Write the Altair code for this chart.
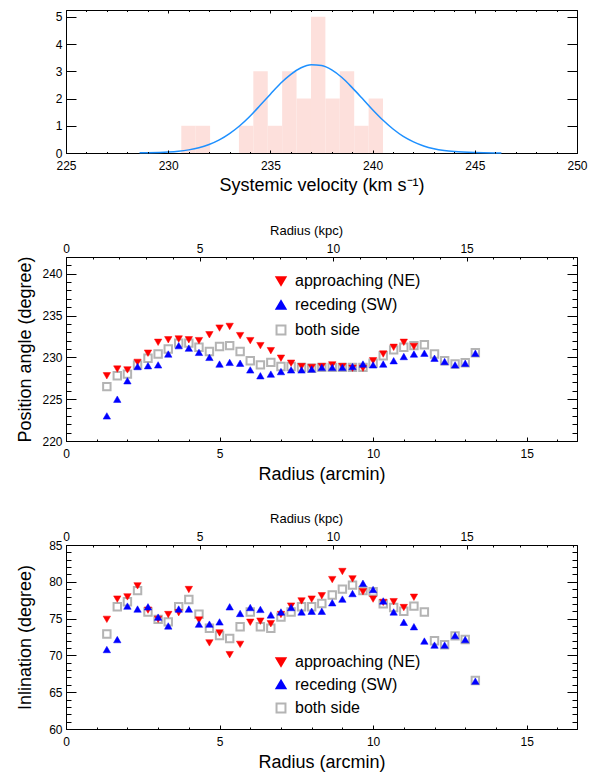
import altair as alt
import pandas as pd

FONT = "Liberation Sans"
W = 511

# ---------------- top panel: histogram of systemic velocities + Gaussian fit
bin_edges = [230.64, 231.345, 232.05, 232.755, 233.46, 234.165, 234.87, 235.575,
             236.28, 236.985, 237.69, 238.395, 239.10, 239.805, 240.51]
bin_counts = [1, 1, 0, 0, 1, 3, 1, 3, 2, 5, 2, 3, 1, 2]

fit_velocity = [228.6, 229.0, 230.0, 230.5, 231.0, 231.5, 232.0, 232.5, 233.0, 233.5,
                234.0, 234.5, 235.0, 235.5, 236.0, 236.5, 237.0, 237.5, 238.0, 238.5,
                239.0, 239.5, 240.0, 240.5, 241.0, 241.5, 242.0, 242.5, 243.0, 243.5,
                244.0, 245.0, 246.0, 246.3]
fit_count = [0.005, 0.009, 0.036, 0.066, 0.115, 0.19, 0.31, 0.48, 0.71, 1.00,
             1.35, 1.75, 2.16, 2.56, 2.89, 3.13, 3.24, 3.21, 3.05, 2.77,
             2.40, 2.00, 1.59, 1.21, 0.88, 0.61, 0.41, 0.26, 0.159, 0.093,
             0.052, 0.014, 0.003, 0.002]

# ---------------- rotation-curve fit parameters vs radius
radius_arcmin = [1.33, 1.67, 2.00, 2.33, 2.67, 3.00, 3.33, 3.67, 4.00, 4.33,
                 4.67, 5.00, 5.33, 5.67, 6.00, 6.33, 6.67, 7.00, 7.33, 7.67,
                 8.00, 8.33, 8.67, 9.00, 9.33, 9.67, 10.00, 10.33, 10.67, 11.00,
                 11.33, 11.67, 12.00, 12.33, 12.67, 13.00, 13.33]

pa_approaching = [227.8, 228.6, 228.5, 229.4, 230.5, 231.8, 232.1, 232.2, 232.1, 232.0,
                  232.7, 233.5, 233.7, 232.6, 232.0, 231.4, 230.8, 229.9, 229.3, 228.9,
                  228.8, 228.9, 229.1, 228.9, 228.7, 228.7, 229.6, 230.4, 231.2, 231.8,
                  231.3]
pa_receding = [223.0, 225.0, 227.2, 228.9, 229.0, 229.1, 230.4, 231.4, 231.1, 230.6,
               230.0, 229.2, 229.4, 229.3, 228.5, 227.8, 228.0, 228.3, 228.5, 228.5,
               228.6, 228.8, 228.8, 228.8, 228.9, 229.2, 229.1, 229.2, 229.6, 230.1,
               230.4, 230.5, 229.9, 229.5, 229.1, 229.3, 230.5]
pa_both = [226.5, 227.8, 228.0, 229.1, 229.9, 230.4, 231.0, 231.7, 231.7, 231.2,
           230.7, 231.3, 231.4, 230.7, 229.6, 229.1, 229.4, 228.9, 228.9, 228.8,
           228.7, 228.8, 228.8, 228.8, 228.8, 228.8, 229.3, 230.2, 230.9, 231.2,
           231.4, 231.5, 230.4, 229.6, 229.2, 229.35, 230.55]

inc_approaching = [74.9, 77.65, 77.95, 79.45, 76.15, 74.9, 75.55, 75.8, 78.95, 74.8,
                   71.7, 73.05, 70.1, 71.5, 74.5, 74.65, 74.3, 75.55, 76.7, 77.4,
                   77.65, 78.1, 80.3, 81.4, 80.4, 78.65, 77.65, 77.2, 77.3, 76.5,
                   77.9]
inc_receding = [70.8, 72.15, 76.7, 76.3, 76.6, 75.2, 74.0, 76.3, 76.3, 74.25,
                74.25, 74.55, 76.6, 75.7, 76.5, 76.25, 75.5, 75.9, 76.5, 75.9,
                76.0, 76.0, 77.15, 77.65, 78.4, 79.8, 78.95, 77.4, 75.9, 74.5,
                73.9, 71.95, 71.4, 71.4, 72.7, 72.15, 66.5]
inc_both = [72.9, 76.6, 77.3, 78.8, 75.9, 74.9, 74.55, 76.6, 77.6, 75.6,
            73.7, 72.7, 72.3, 73.9, 75.9, 73.9, 73.7, 75.2, 75.9, 76.6,
            76.6, 77.05, 78.2, 79.0, 79.55, 78.8, 78.65, 77.0, 76.5, 76.0,
            76.7, 75.9, 72.0, 71.45, 72.65, 72.15, 66.6]

SERIES = ["approaching (NE)", "receding (SW)", "both side"]
ARCMIN_TO_KPC = 1.15
R_MAX = 16.64


def axis(orient, values, size, labels=False, title=None, **kw):
    d = dict(orient=orient, values=values, tickSize=size, offset=-size,
             domain=False, grid=False, labels=labels, ticks=True,
             tickColor="black", tickWidth=1, labelFlush=False, labelOverlap=False,
             labelFont=FONT, labelFontSize=12, labelColor="black",
             titleFont=FONT, titleFontSize=18, titleFontWeight="normal",
             titleColor="black", title=title, zindex=1)
    d.update(kw)
    return alt.Axis(**d)


# ---------------- top panel
hist = pd.DataFrame({"lo": bin_edges[:-1], "hi": bin_edges[1:], "count": bin_counts})
fit = pd.DataFrame({"v": fit_velocity, "c": fit_count})

xs_v = alt.Scale(domain=[225, 250], nice=False, zero=False)
ys_c = alt.Scale(domain=[0, 5.25], nice=False, zero=False)
v_major = [225, 230, 235, 240, 245, 250]
v_minor = list(range(225, 251))
c_major = [0, 1, 2, 3, 4, 5]

bars = alt.Chart(hist).mark_rect(color="#fde0dc").encode(
    x=alt.X("lo:Q", scale=xs_v,
            axis=axis("bottom", v_major, 3, labels=True,
                      title="Systemic velocity (km s\u207b\u00b9)",
                      labelPadding=7.5, titlePadding=5)),
    x2="hi:Q",
    y=alt.Y("count:Q", scale=ys_c, axis=axis("left", c_major, 10, labels=True, labelPadding=4)),
    y2=alt.datum(0),
)
line = alt.Chart(fit).mark_line(color="#1e90ff", strokeWidth=1.5, interpolate="monotone").encode(
    x=alt.X("v:Q", scale=xs_v, axis=axis("bottom", v_minor, 1.5)),
    y=alt.Y("c:Q", scale=ys_c, axis=axis("right", c_major, 10)),
)
top_h1 = alt.Chart(hist).mark_point(opacity=0).encode(
    x=alt.X("lo:Q", scale=xs_v, axis=axis("top", v_major, 3)),
    y=alt.Y("count:Q", scale=ys_c, axis=None),
)
top_h2 = alt.Chart(hist).mark_point(opacity=0).encode(
    x=alt.X("lo:Q", scale=xs_v, axis=axis("top", v_minor, 1.5)),
    y=alt.Y("count:Q", scale=ys_c, axis=None),
)
top = alt.layer(bars, line, top_h1, top_h2).resolve_scale(
    x="independent", y="independent").resolve_axis(
    x="independent", y="independent").properties(width=W, height=143)


# ---------------- scatter panels
def long_df(a, r, b):
    rows = []
    for i, v in enumerate(b):
        rows.append({"r": radius_arcmin[i], "v": v, "s": SERIES[2], "o": 0})
    for i, v in enumerate(a):
        rows.append({"r": radius_arcmin[i], "v": v, "s": SERIES[0], "o": 1})
    for i, v in enumerate(r):
        rows.append({"r": radius_arcmin[i], "v": v, "s": SERIES[1], "o": 2})
    return pd.DataFrame(rows)


def panel(a, r, b, ydom, ymaj, ymin, ytitle, ytitlepad, legx, legy, rowpad, height):
    df = long_df(a, r, b)
    xs = alt.Scale(domain=[0, R_MAX], nice=False, zero=False)
    xk = alt.Scale(domain=[0, R_MAX * ARCMIN_TO_KPC], nice=False, zero=False)
    ys = alt.Scale(domain=ydom, nice=False, zero=False)
    leg = alt.Legend(title=None, orient="none", legendX=legx, legendY=legy,
                     labelFont=FONT, labelFontSize=16, labelColor="black",
                     symbolSize=80, rowPadding=rowpad, labelOffset=6, padding=0,
                     symbolStrokeWidth=2)
    base = alt.Chart(df)
    pts = base.mark_point(size=55, opacity=1).encode(
        x=alt.X("r:Q", scale=xs,
                axis=axis("bottom", [0, 5, 10, 15], 4, labels=True, title="Radius (arcmin)",
                          labelPadding=7.5, titlePadding=6)),
        y=alt.Y("v:Q", scale=ys,
                axis=axis("left", ymaj, 10, labels=True, title=ytitle,
                          labelPadding=4, titlePadding=ytitlepad)),
        shape=alt.Shape("s:N", scale=alt.Scale(domain=SERIES,
                        range=["triangle-down", "triangle-up", "square"]), legend=leg),
        fill=alt.Fill("s:N", scale=alt.Scale(domain=SERIES,
                      range=["#ff0000", "#0000ff", "transparent"]), legend=leg),
        stroke=alt.Stroke("s:N", scale=alt.Scale(domain=SERIES,
                          range=["#ff0000", "#0000ff", "#b4b4b4"]), legend=leg),
        strokeWidth=alt.condition(alt.datum.s == SERIES[2], alt.value(2), alt.value(0.5)),
        order=alt.Order("o:Q"),
    )
    h1 = base.mark_point(opacity=0).encode(
        x=alt.X("r:Q", scale=xs, axis=axis("bottom", list(range(0, 17)), 2)),
        y=alt.Y("v:Q", scale=ys, axis=axis("left", ymin, 5)),
    )
    kb = base.transform_calculate(rk=f"datum.r * {ARCMIN_TO_KPC}")
    h2 = kb.mark_point(opacity=0).encode(
        x=alt.X("rk:Q", scale=xk,
                axis=axis("top", [0, 5, 10, 15], 4, labels=True, title="Radius (kpc)",
                          labelPadding=2, titlePadding=5, titleFontSize=13, titleX=240)),
        y=alt.Y("v:Q", scale=ys, axis=axis("right", ymaj, 10)),
    )
    h3 = kb.mark_point(opacity=0).encode(
        x=alt.X("rk:Q", scale=xk, axis=axis("top", list(range(0, 20)), 2)),
        y=alt.Y("v:Q", scale=ys, axis=axis("right", ymin, 5)),
    )
    return alt.layer(pts, h1, h2, h3).resolve_scale(
        x="independent", y="independent").resolve_axis(
        x="independent", y="independent").properties(width=W, height=height)


mid = panel(pa_approaching, pa_receding, pa_both, [220, 242],
            [220, 225, 230, 235, 240], list(range(220, 243)),
            "Position angle (degree)", 7, 207, 16, 8, 184)
bot = panel(inc_approaching, inc_receding, inc_both, [60, 85],
            [60, 65, 70, 75, 80, 85], list(range(60, 86)),
            "Inlination (degree)", 14, 207, 109, 6.5, 184)

chart = alt.vconcat(top, mid, bot, spacing=104, bounds="flush").resolve_scale(
    shape="independent", fill="independent", stroke="independent"
).resolve_legend(
    shape="independent", fill="independent", stroke="independent"
).configure_view(stroke="black", strokeWidth=1).properties(
    padding={"left": 16, "top": 9, "right": 5, "bottom": 5}, background="white"
)

chart.save("out.html", embed_options={"renderer": "svg", "actions": False})
